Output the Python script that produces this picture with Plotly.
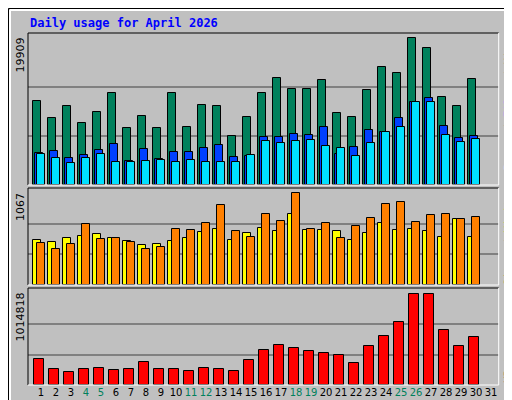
import plotly.graph_objects as go

days = list(range(1, 32))
hits = [11400,9100,10720,8430,9910,12480,7750,9370,7750,12480,7890,10860,10720,6670,9240,12480,14510,13020,13020,14240,9780,9240,12890,15990,15180,19909,18560,11940,10720,14370]
files = [4380,4650,3700,4110,4780,5590,3300,4920,3570,4510,4510,5050,5460,3840,3970,6540,6540,6940,6810,7890,4240,5190,7480,7210,9100,11260,11800,8020,6400,6670]
pages = [4240,3700,3030,3700,4240,3160,3160,3300,3430,3160,3430,3160,3160,3160,4110,6000,5730,6000,6130,5320,5050,3970,5730,7210,7890,11260,11260,6810,5860,6270]
visits = [522,499,545,568,591,545,510,464,476,510,545,615,650,522,603,661,626,823,638,638,626,522,603,719,638,650,626,557,765,557]
sites = [487,418,476,707,534,545,499,418,441,650,638,719,928,626,557,823,742,1067,650,719,545,684,777,939,963,731,812,823,765,789]
kbytes = [292600,181500,148100,181500,192600,170400,181500,259300,181500,181500,159300,192600,181500,159300,281500,392600,448100,414800,381500,359300,337000,248100,437000,548100,703700,1014818,1014818,614800,437000,537000]
weekend = {4,5,11,12,18,19,25,26}
max_hits, max_visits, max_kb = 19909, 1067, 1014818

W, H = 512, 400
def yd(top, bot):
    return [1 - bot / H, 1 - top / H]
xdom = [20 / W, 490.7 / W]
panels = [(25, 177), (180, 277), (280, 377)]

fig = go.Figure()
n = len(hits)
dd = days[:n]
def bar(x_off, w, vals, color, ax):
    fig.add_trace(go.Bar(x=[d + x_off for d in dd], y=vals, width=w, marker=dict(color=color, line=dict(color="black", width=1)),
                         xaxis="x" + ax, yaxis="y" + ax, showlegend=False, hoverinfo="skip"))

bar(-0.267, 0.49, hits, "#00805c", "")
bar(-0.133, 0.49, files, "#0040ff", "")
bar(0.0, 0.49, pages, "#00e0ff", "")
bar(-0.267, 0.49, visits, "#ffff00", "2")
bar(0.0, 0.49, sites, "#ff8000", "2")
bar(-0.11, 0.67, kbytes, "#ff0000", "3")

xr = [0.133, 31.51]
grid = dict(showgrid=True, gridcolor="#808080", gridwidth=1.5, showticklabels=False, ticks="", zeroline=False, showline=False,
            fixedrange=True, automargin=False)
ticktext = [f"<span style='color:#00805c'>{d}</span>" if d in weekend else str(d) for d in days]
xbase = dict(domain=xdom, range=xr, showgrid=False, zeroline=False, ticks="", automargin=False)
fig.update_layout(
    width=W, height=H, margin=dict(l=0, r=0, t=0, b=0, autoexpand=False),
    paper_bgcolor="#c0c0c0", plot_bgcolor="#c0c0c0", barmode="overlay", bargap=0,
    xaxis=dict(anchor="y", showticklabels=False, **xbase),
    xaxis2=dict(anchor="y2", showticklabels=False, **xbase),
    xaxis3=dict(anchor="y3", tickvals=days, ticktext=ticktext, tickangle=0,
                tickfont=dict(family="DejaVu Sans", size=10, color="black"), **xbase),
    yaxis=dict(domain=yd(*panels[0]), range=[0, max_hits * 152 / 147.4], tickvals=[max_hits / 3, max_hits * 2 / 3], **grid),
    yaxis2=dict(domain=yd(*panels[1]), range=[0, max_visits * 97 / 92], tickvals=[max_visits / 3, max_visits * 2 / 3], **grid),
    yaxis3=dict(domain=yd(*panels[2]), range=[0, max_kb * 97 / 91.3], tickvals=[max_kb / 3, max_kb * 2 / 3], **grid),
    font=dict(family="DejaVu Sans"),
)

shapes = []
def ln(x0, y0, x1, y1, c, w=1):
    shapes.append(dict(type="line", xref="paper", yref="paper", x0=x0 / W, y0=1 - y0 / H, x1=x1 / W, y1=1 - y1 / H, line=dict(color=c, width=w)))
for t, b in panels:
    ln(20, t, 490.7, t, "black"); ln(20, t, 20, b, "black")
    ln(490.7, t, 490.7, b, "white"); ln(20, b, 490.7, b, "white")
ln(0.5, 0.5, 511.5, 0.5, "black"); ln(0.5, 0.5, 0.5, 399.5, "black")
ln(511.5, 0.5, 511.5, 399.5, "black"); ln(0.5, 399.5, 511.5, 399.5, "black")
ln(2, 2, 510, 2, "white", 2); ln(2, 2, 2, 398, "white", 2)
ln(510, 2, 510, 398, "#808080", 2); ln(2, 398, 510, 398, "#808080", 2)
fig.update_layout(shapes=shapes)

ann = [
    dict(x=20 / W, y=1 - 15 / H, text="<b>Daily usage for April 2026</b>", xanchor="left", yanchor="middle",
         font=dict(family="DejaVu Sans Mono", size=12, color="#0000ff")),
    dict(x=12 / W, y=1 - 28 / H, text=str(max_hits), textangle=-90, xanchor="center", yanchor="top", font=dict(size=11, color="black")),
    dict(x=12 / W, y=1 - 183 / H, text=str(max_visits), textangle=-90, xanchor="center", yanchor="top", font=dict(size=11, color="black")),
    dict(x=12 / W, y=1 - 283 / H, text=str(max_kb), textangle=-90, xanchor="center", yanchor="top", font=dict(size=11, color="black")),
    dict(x=500 / W, y=1 - 28 / H, textangle=-90, xanchor="center", yanchor="top",
         text="<span style='color:#00e0ff'>Pages</span><span style='color:#808080'> / </span><span style='color:#0040ff'>Files</span><span style='color:#808080'> / </span><span style='color:#00805c'>Hits</span>",
         font=dict(family="DejaVu Sans Mono", size=11)),
    dict(x=500 / W, y=1 - 183 / H, textangle=-90, xanchor="center", yanchor="top",
         text="<span style='color:#ff8000'>Sites</span><span style='color:#808080'> / </span><span style='color:#ffff00'>Visits</span>",
         font=dict(family="DejaVu Sans Mono", size=11)),
    dict(x=500 / W, y=1 - 377 / H, textangle=-90, xanchor="center", yanchor="bottom",
         text="<span style='color:#ff0000'>KBytes</span>", font=dict(family="DejaVu Sans Mono", size=11)),
]
for a in ann:
    a.update(xref="paper", yref="paper", showarrow=False)
fig.update_layout(annotations=ann)
fig.write_html("out.html")
